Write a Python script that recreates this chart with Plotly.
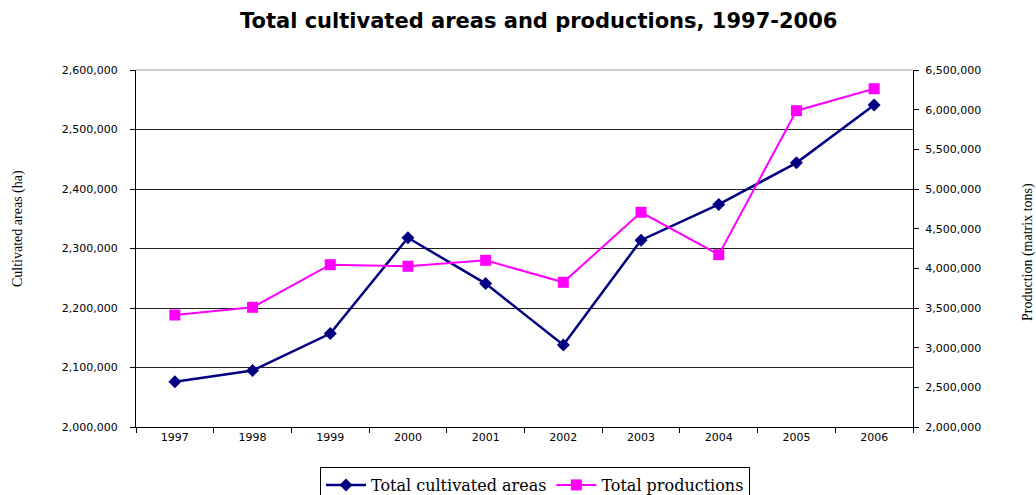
import plotly.graph_objects as go

years = ["1997", "1998", "1999", "2000", "2001", "2002", "2003", "2004", "2005", "2006"]
cultivated_areas = [2076000, 2095000, 2157000, 2318000, 2241000, 2138000, 2314000, 2374000, 2444000, 2541000]
productions = [3412000, 3509000, 4046000, 4026000, 4101000, 3824000, 4706000, 4172000, 5987000, 6264000]

title_text = "Total cultivated areas and productions, 1997-2006"
left_title = "Cultivated areas (ha)"
right_title = "Production (matrix tons)"

fig = go.Figure()
fig.add_trace(go.Scatter(
    x=years, y=cultivated_areas, name="Total cultivated areas",
    mode="lines+markers",
    line=dict(color="#000080", width=2.5),
    marker=dict(symbol="diamond", size=10, color="#000080"),
    yaxis="y",
))
fig.add_trace(go.Scatter(
    x=years, y=productions, name="Total productions",
    mode="lines+markers",
    line=dict(color="#FF00FF", width=2),
    marker=dict(symbol="square", size=11, color="#FF00FF"),
    yaxis="y2",
))

tickfont = dict(family="DejaVu Sans", size=11, color="black")

fig.update_layout(
    width=1036, height=495,
    margin=dict(l=136, r=123, t=70, b=68, autoexpand=False),
    paper_bgcolor="white", plot_bgcolor="white",
    title=dict(text="<b>" + title_text + "</b>", x=0.52, xref="container", xanchor="center",
               y=1 - 21 / 495, yref="container", yanchor="middle",
               font=dict(family="DejaVu Sans", size=21, color="black")),
    xaxis=dict(type="category", range=[-0.5, 9.5], showgrid=False, automargin=False,
               ticks="outside", tickson="boundaries", ticklen=5, tickcolor="black",
               showline=True, linecolor="black", linewidth=1, tickfont=tickfont),
    yaxis=dict(range=[2000000, 2600000], dtick=100000, tickformat=",", automargin=False,
               showgrid=True, gridcolor="#222222", gridwidth=1,
               ticks="outside", ticklen=5, tickcolor="black",
               showline=True, linecolor="black", linewidth=1,
               ticklabelstandoff=10, tickfont=tickfont, zeroline=False),
    yaxis2=dict(range=[2000000, 6500000], dtick=500000, tickformat=",", automargin=False,
                overlaying="y", side="right", showgrid=False,
                ticks="outside", ticklen=5, tickcolor="black",
                showline=True, linecolor="black", linewidth=1,
                ticklabelstandoff=4, tickfont=tickfont, zeroline=False),
    legend=dict(orientation="h", x=(535 - 136) / 777, xanchor="center",
                y=(427 - 467) / 357, yanchor="top",
                bordercolor="black", borderwidth=1, bgcolor="white",
                font=dict(family="DejaVu Serif", size=16, color="black"),
                itemwidth=40, tracegroupgap=0),
    showlegend=True,
    shapes=[dict(type="line", xref="paper", yref="paper", x0=0, x1=1, y0=1, y1=1,
                 line=dict(color="#999999", width=1))],
    annotations=[
        dict(text=left_title, xref="paper", yref="paper", x=(18 - 136) / 777, y=(427 - 228) / 357,
             textangle=-90, showarrow=False, xanchor="center", yanchor="middle",
             font=dict(family="Liberation Serif", size=14, color="black")),
        dict(text=right_title, xref="paper", yref="paper", x=(1028 - 136) / 777, y=(427 - 252) / 357,
             textangle=-90, showarrow=False, xanchor="center", yanchor="middle",
             font=dict(family="Liberation Serif", size=14, color="black")),
    ],
)

fig.write_html(
    "out.html",
    config={"displayModeBar": False},
    post_script="document.body.style.margin='0';document.body.style.overflow='hidden';",
)
